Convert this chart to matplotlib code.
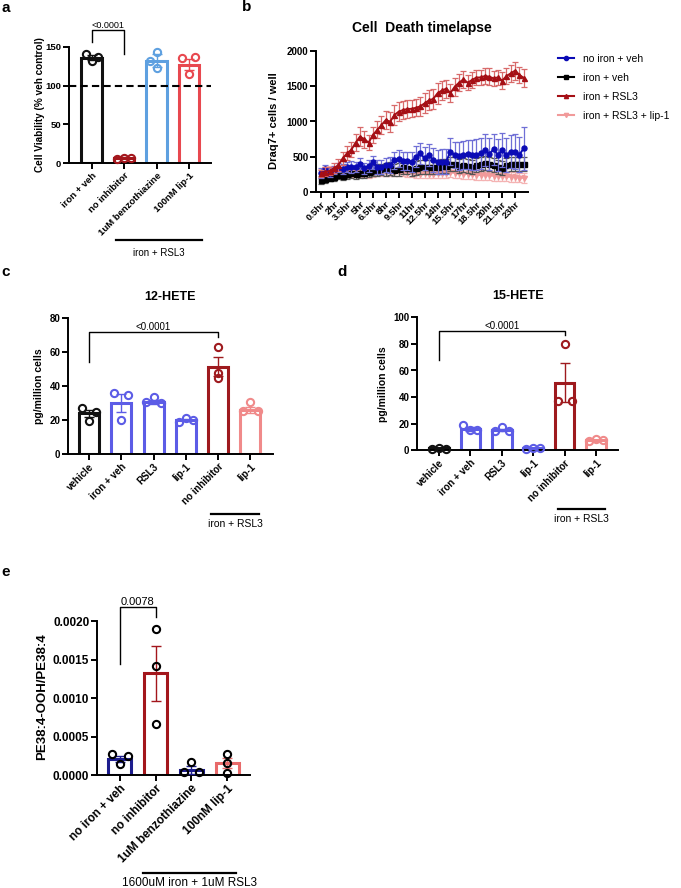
import numpy as np
import matplotlib
matplotlib.use("Agg")
import matplotlib.pyplot as plt
from matplotlib.lines import Line2D

plt.rcParams["font.family"] = ["Liberation Sans", "DejaVu Sans"]

W, H = 681, 888

# ---------------- data ----------------
# panel a
a_labels = ["iron + veh", "no inhibitor", "1uM benzothiazine", "100nM lip-1"]
a_means = [136, 7, 132, 127]
a_sems = [3, 0.5, 8, 7]
a_points = [[140, 131, 137], [6, 7, 7], [143, 132, 122], [136, 137, 115]]
a_colors = ["#111111", "#a3161c", "#5ea0e0", "#e8484f"]

# panel b
hours = [0.5, 1, 1.5, 2, 2.5, 3, 3.5, 4, 4.5, 5, 5.5, 6, 6.5, 7, 7.5, 8,
         8.5, 9, 9.5, 10, 10.5, 11, 11.5, 12, 12.5, 13, 13.5, 14, 14.5, 15, 15.5, 16,
         16.5, 17, 17.5, 18, 18.5, 19, 19.5, 20, 20.5, 21, 21.5, 22, 22.5, 23, 23.5, 24]
hour_ticks = [0.5, 2, 3.5, 5, 6.5, 8, 9.5, 11, 12.5, 14, 15.5, 17, 18.5, 20, 21.5, 23]
hour_tick_labels = ["0.5hr", "2hr", "3.5hr", "5hr", "6.5hr", "8hr", "9.5hr", "11hr",
                    "12.5hr", "14hr", "15.5hr", "17hr", "18.5hr", "20hr", "21.5hr", "23hr"]

no_iron_veh = [264, 320, 275, 310, 345, 325, 350, 355, 350, 400, 335, 370, 420, 350, 360, 380,
               380, 450, 470, 440, 440, 430, 500, 548, 477, 525, 454, 430, 430, 430, 572, 525,
               510, 525, 534, 525, 525, 548, 596, 539, 605, 525, 596, 525, 572, 572, 530, 618]
no_iron_veh_err = [70, 60, 60, 60, 60, 70, 70, 80, 70, 80, 80, 90, 90, 100, 100, 100,
                   110, 120, 120, 130, 130, 140, 150, 150, 160, 160, 170, 170, 180, 180, 190, 190,
                   200, 200, 210, 210, 220, 220, 230, 230, 220, 230, 240, 240, 230, 250, 250, 300]

iron_veh = [170, 180, 203, 217, 240, 226, 255, 264, 255, 274, 274, 288, 302, 311, 320, 320,
            335, 311, 320, 349, 340, 320, 336, 350, 359, 350, 359, 359, 369, 369, 397, 397,
            369, 383, 369, 350, 378, 397, 416, 397, 383, 359, 336, 383, 392, 397, 397, 397]
iron_veh_err = [50, 50, 50, 60, 60, 60, 70, 70, 70, 70, 80, 80, 80, 80, 80, 90,
                90, 90, 90, 90, 90, 100, 100, 100, 100, 100, 100, 100, 100, 100, 100, 100,
                100, 100, 100, 100, 100, 100, 100, 100, 100, 100, 100, 100, 100, 100, 100, 100]

iron_rsl3 = [265, 288, 298, 336, 383, 478, 548, 600, 700, 785, 750, 700, 808, 880, 950, 1021,
             998, 1092, 1140, 1163, 1177, 1180, 1195, 1215, 1258, 1300, 1320, 1400, 1440, 1465, 1405, 1494,
             1551, 1598, 1551, 1589, 1622, 1626, 1645, 1636, 1612, 1626, 1579, 1645, 1683, 1721, 1660, 1620]
iron_rsl3_err = [50, 60, 60, 70, 80, 90, 100, 110, 120, 130, 120, 110, 120, 120, 130, 130,
                 140, 140, 130, 130, 130, 120, 120, 130, 140, 140, 140, 150, 140, 130, 130, 130,
                 120, 120, 110, 110, 110, 110, 110, 120, 110, 110, 120, 110, 120, 130, 120, 130]

iron_rsl3_lip1 = [260, 290, 300, 290, 280, 290, 280, 270, 280, 270, 275, 265, 270, 280, 285, 280,
                  290, 280, 290, 280, 275, 270, 265, 260, 265, 255, 260, 265, 270, 275, 280, 270,
                  265, 260, 255, 250, 245, 240, 240, 235, 230, 225, 225, 220, 215, 210, 205, 200]
iron_rsl3_lip1_err = [60, 70, 70, 60, 60, 60, 60, 60, 60, 60, 60, 60, 60, 60, 60, 60,
                      60, 60, 60, 60, 60, 60, 60, 60, 60, 60, 60, 70, 70, 70, 70, 70,
                      70, 70, 70, 70, 70, 70, 70, 70, 70, 70, 70, 70, 70, 70, 70, 70]

# panels c, d
hete_labels = ["vehicle", "iron + veh", "RSL3", "lip-1", "no inhibitor", "lip-1"]
hete_colors = ["#111111", "#5c5ce6", "#5c5ce6", "#5c5ce6", "#9e1a1e", "#f08a8a"]
c_means = [24, 30, 30.8, 20, 51.5, 26]
c_sems = [2.2, 5.2, 1.2, 0.6, 5.8, 1.9]
c_points = [[27, 19.6, 25], [36, 19.8, 35], [30.5, 33.5, 30], [19, 21, 20], [63, 48, 44.6], [25.5, 30.5, 25.5]]
d_means = [1.5, 15.8, 15.3, 1.4, 50.9, 7.5]
d_sems = [0.3, 1.4, 1.0, 0.3, 14.5, 0.4]
d_points = [[1, 1.6, 1.2], [18.8, 15, 15], [14.5, 17.8, 14.5], [1, 1.8, 1.4], [80, 37, 37], [7, 8.3, 8]]

# panel e
e_labels = ["no iron + veh", "no inhibitor", "1uM benzothiazine", "100nM lip-1"]
e_means = [0.000205, 0.00132, 0.000065, 0.000155]
e_sems = [0.00004, 0.00036, 0.00005, 0.00007]
e_points = [[0.000272, 0.000142, 0.000250], [0.00190, 0.00141, 0.000665],
            [0.000035, 0.000168, 0.000035], [0.000272, 0.000155, 0.000030]]
e_colors = ["#1d1d8e", "#a3161c", "#1d1d8e", "#e86a6a"]

fig = plt.figure(figsize=(W / 100, H / 100), dpi=100)


def px_axes(l, t, r, b):
    return fig.add_axes([l / W, 1 - b / H, (r - l) / W, (b - t) / H])


def style(ax, size):
    for s in ["top", "right"]:
        ax.spines[s].set_visible(False)
    for s in ["left", "bottom"]:
        ax.spines[s].set_linewidth(1.4)
    ax.tick_params(width=1.4, length=4, labelsize=size, pad=1.5)
    for t in ax.get_xticklabels() + ax.get_yticklabels():
        t.set_fontweight("bold")


def bars(ax, means, sems, points, offsets, colors, pcolors, width):
    x = np.arange(len(means))
    ax.bar(x, means, width, facecolor="white", edgecolor=colors, linewidth=2.2, zorder=2)
    for i in range(len(means)):
        ax.errorbar(x[i], means[i], yerr=sems[i], color=colors[i], capsize=3.5,
                    elinewidth=1, capthick=1, zorder=3)
        ax.plot(x[i] + np.array(offsets[i]), points[i], "o", mfc="none", mec=pcolors[i],
                mew=1.5, ms=5.2, zorder=4, clip_on=False)


def bracket(ax, x0, x1, y, yl, yr, text, size):
    ax.plot([x0, x0, x1, x1], [yl, y, y, yr], color="black", lw=1, clip_on=False)
    ax.text((x0 + x1) / 2, y, text, ha="center", va="bottom", fontsize=size)


def group_line(ax, x0, x1, y, ty, text, size):
    tr = ax.get_xaxis_transform()
    ax.plot([x0, x1], [y, y], color="black", lw=1.6, transform=tr, clip_on=False)
    ax.text((x0 + x1) / 2, ty, text, ha="center", va="center", fontsize=size, transform=tr)


SPREAD = [-0.22, 0, 0.22]
STACK = [0, 0, 0]

# ---------------- panel a ----------------
ax = px_axes(69, 46.7, 211, 163.3)
bars(ax, a_means, a_sems, a_points,
     [[-0.18, 0, 0.18], SPREAD, [0, -0.2, 0], [-0.2, 0.2, 0]], a_colors, a_colors, 0.64)
ax.axhline(100, color="black", lw=1.5, ls=(0, (3.5, 2)), zorder=5)
ax.set_xlim(-0.7, 3.68)
ax.set_ylim(0, 150)
ax.set_yticks([0, 50, 100, 150])
ax.set_xticks(range(4))
ax.set_xticklabels(a_labels, rotation=45, ha="right", rotation_mode="anchor")
style(ax, 6.8)
bracket(ax, 0, 1, 172, 156, 141, "<0.0001", 6.5)
group_line(ax, 0.75, 3.4, -0.66, -0.77, "iron + RSL3", 7)
fig.text(40 / W, 1 - 105 / H, "Cell Viability (% veh control)", rotation=90,
         ha="center", va="center", fontsize=7.2, fontweight="bold")

# ---------------- panel b ----------------
ax = px_axes(316, 51, 528, 192)
series = [
    (iron_rsl3_lip1, iron_rsl3_lip1_err, "#f19a9a", "#f4b3b3", "v", 2),
    (iron_veh, iron_veh_err, "#000000", "#555555", "s", 3),
    (no_iron_veh, no_iron_veh_err, "#0b0bb5", "#6f6fd6", "o", 4),
    (iron_rsl3, iron_rsl3_err, "#a50f15", "#d86a6a", "^", 5),
]
for vals, err, col, ecol, mk, z in series:
    ax.errorbar(hours, vals, yerr=err, color=col, ecolor=ecol, marker=mk, ms=3.6,
                lw=1.4, elinewidth=0.9, capsize=2, capthick=0.9, zorder=z)
ax.set_xlim(-0.1, 24.5)
ax.set_ylim(0, 2000)
ax.set_yticks([0, 500, 1000, 1500, 2000])
ax.set_xticks(hour_ticks)
ax.set_xticklabels(hour_tick_labels, rotation=45, ha="right", rotation_mode="anchor")
style(ax, 7)
ax.tick_params(axis="x", labelsize=6.8)
fig.text(274 / W, 1 - 121 / H, "Draq7+ cells / well", rotation=90,
         ha="center", va="center", fontsize=8, fontweight="bold")
fig.text(422 / W, 1 - 28 / H, "Cell  Death timelapse", ha="center", va="center",
         fontsize=10, fontweight="bold")
handles = [
    Line2D([], [], color="#0b0bb5", marker="o", ms=3),
    Line2D([], [], color="#000000", marker="s", ms=3),
    Line2D([], [], color="#a50f15", marker="^", ms=3),
    Line2D([], [], color="#f19a9a", marker="v", ms=3),
]
fig.legend(handles, ["no iron + veh", "iron + veh", "iron + RSL3", "iron + RSL3 + lip-1"],
           loc="upper left", bbox_to_anchor=(558 / W, 1 - 54 / H), frameon=False,
           fontsize=7.5, handlelength=1.5, handletextpad=0.9, labelspacing=0.85,
           borderpad=0, borderaxespad=0)

# ---------------- panel c ----------------
ax = px_axes(68, 318.3, 273, 454)
bars(ax, c_means, c_sems, c_points,
     [SPREAD, SPREAD, SPREAD, SPREAD, STACK, SPREAD], hete_colors, hete_colors, 0.62)
ax.set_xlim(-0.65, 5.7)
ax.set_ylim(0, 80)
ax.set_yticks([0, 20, 40, 60, 80])
ax.set_xticks(range(6))
ax.set_xticklabels(hete_labels, rotation=45, ha="right", rotation_mode="anchor")
style(ax, 7)
bracket(ax, 0, 4, 72, 54.5, 69, "<0.0001", 7)
group_line(ax, 3.79, 5.28, -0.442, -0.516, "iron + RSL3", 7.5)
fig.text(39 / W, 1 - 386 / H, "pg/million cells", rotation=90,
         ha="center", va="center", fontsize=7.5, fontweight="bold")
fig.text(170 / W, 1 - 297 / H, "12-HETE", ha="center", va="center",
         fontsize=9, fontweight="bold")

# ---------------- panel d ----------------
ax = px_axes(417, 317.3, 618, 450.3)
bars(ax, d_means, d_sems, d_points,
     [SPREAD, SPREAD, SPREAD, SPREAD, [0, -0.22, 0.22], SPREAD], hete_colors, hete_colors, 0.62)
ax.set_xlim(-0.7, 5.7)
ax.set_ylim(0, 100)
ax.set_yticks([0, 20, 40, 60, 80, 100])
ax.set_xticks(range(6))
ax.set_xticklabels(hete_labels, rotation=45, ha="right", rotation_mode="anchor")
style(ax, 7)
bracket(ax, 0, 4, 90, 68, 86.5, "<0.0001", 7)
group_line(ax, 3.79, 5.29, -0.441, -0.516, "iron + RSL3", 7.5)
fig.text(383 / W, 1 - 384 / H, "pg/million cells", rotation=90,
         ha="center", va="center", fontsize=7.5, fontweight="bold")
fig.text(518 / W, 1 - 296 / H, "15-HETE", ha="center", va="center",
         fontsize=9, fontweight="bold")

# ---------------- panel e ----------------
ax = px_axes(97, 621, 250, 775)
bars(ax, e_means, e_sems, e_points,
     [SPREAD, STACK, SPREAD, STACK], e_colors, ["black"] * 4, 0.64)
ax.set_xlim(-0.64, 3.64)
ax.set_ylim(0, 0.002)
ax.set_yticks([0, 0.0005, 0.001, 0.0015, 0.002])
ax.set_yticklabels(["0.0000", "0.0005", "0.0010", "0.0015", "0.0020"])
ax.set_xticks(range(4))
ax.set_xticklabels(e_labels, rotation=45, ha="right", rotation_mode="anchor")
style(ax, 8.5)
bracket(ax, 0, 1, 0.002186, 0.00144, 0.002056, "0.0078", 8)
group_line(ax, 0.64, 3.25, -0.634, -0.70, "1600uM iron + 1uM RSL3", 8.5)
fig.text(42 / W, 1 - 697 / H, "PE38:4-OOH/PE38:4", rotation=90,
         ha="center", va="center", fontsize=9.5, fontweight="bold")

# panel letters
for lab, x, y in [("a", 6, 8), ("b", 247, 7), ("c", 6, 272), ("d", 342, 272), ("e", 6, 572)]:
    fig.text(x / W, 1 - y / H, lab, ha="center", va="center", fontsize=11, fontweight="bold")

fig.savefig("out.png", dpi=100)
